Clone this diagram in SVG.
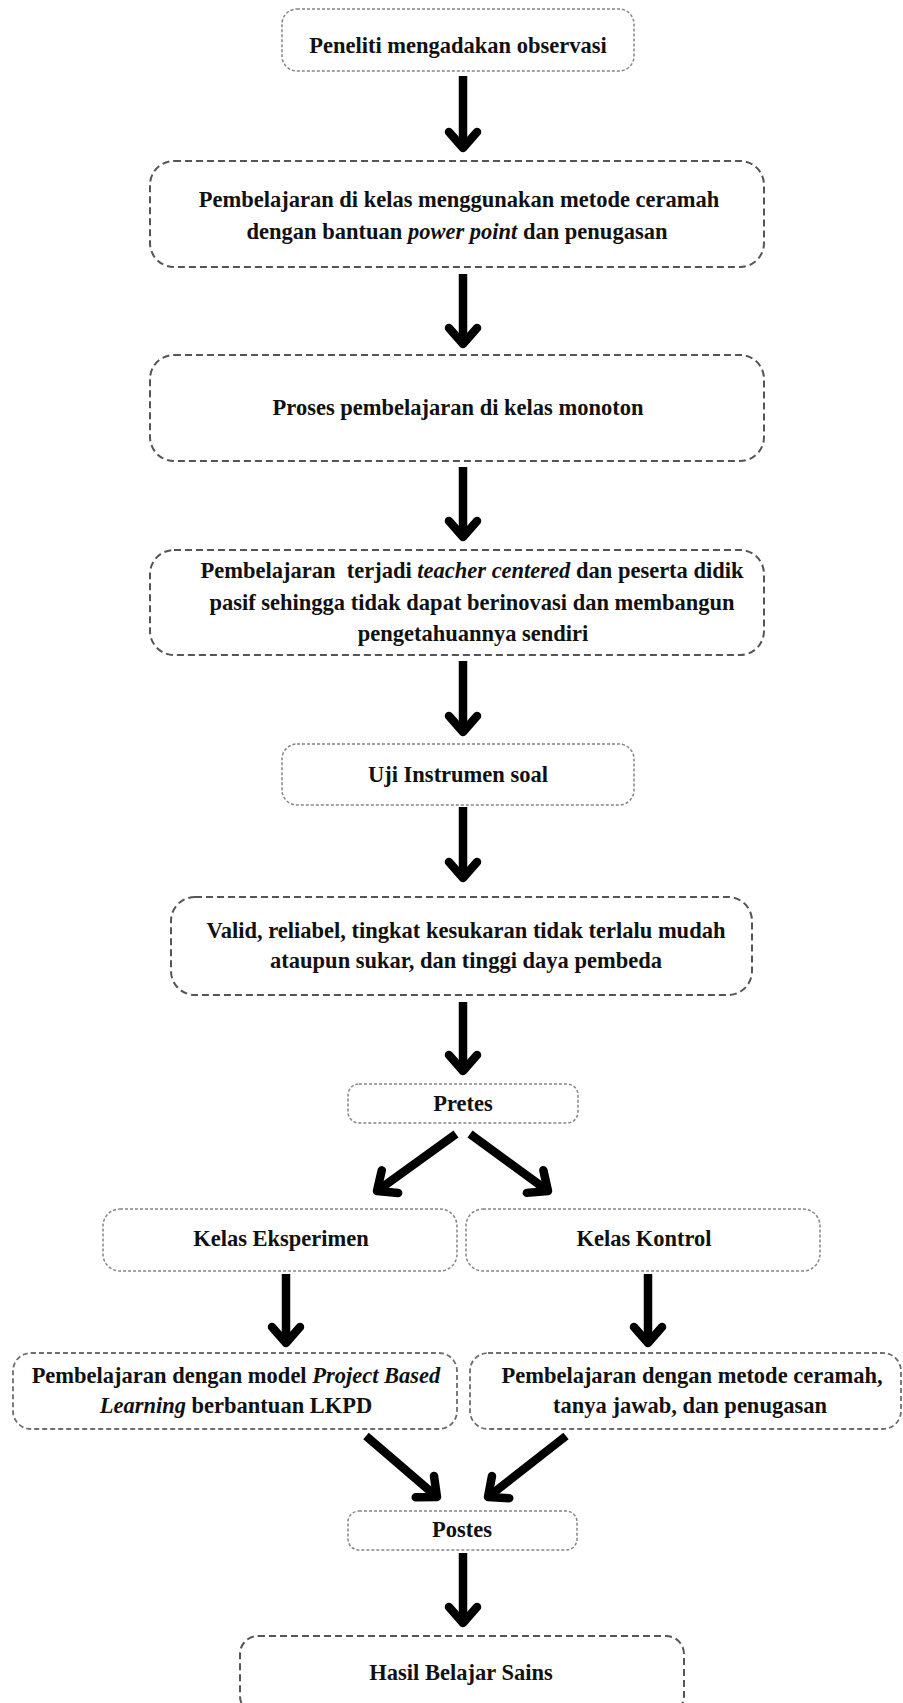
<svg xmlns="http://www.w3.org/2000/svg" width="903" height="1703" viewBox="0 0 903 1703">
<defs>
<style>
.t{font-family:"Liberation Serif","Times New Roman",serif;font-weight:bold;font-size:22.5px;fill:#111;text-anchor:middle}
.i{font-style:italic}
.fine{fill:#fff;stroke:#858585;stroke-width:1.5;stroke-dasharray:3 2}
.med{fill:#fff;stroke:#6e6e6e;stroke-width:1.8;stroke-dasharray:5 3}
.long{fill:#fff;stroke:#555;stroke-width:2;stroke-dasharray:7 4}
.arr{stroke:#000;stroke-width:8.5;fill:none;marker-end:url(#head)}
</style>
<marker id="head" markerUnits="userSpaceOnUse" orient="auto" refX="0" refY="0" markerWidth="40" markerHeight="40" overflow="visible">
<path d="M-16,-14 L0,0 L-16,14" fill="none" stroke="#000" stroke-width="8.5" stroke-linecap="round" stroke-linejoin="round"/>
</marker>
</defs>
<rect width="903" height="1703" fill="#fff"/>
<g id="connectors">
<line class="arr" x1="463" y1="76" x2="463" y2="148"/>
<line class="arr" x1="463" y1="274" x2="463" y2="344"/>
<line class="arr" x1="463" y1="467" x2="463" y2="537"/>
<line class="arr" x1="463" y1="661" x2="463" y2="732"/>
<line class="arr" x1="463" y1="807" x2="463" y2="878"/>
<line class="arr" x1="463" y1="1002" x2="463" y2="1071"/>
<line class="arr" x1="456" y1="1134" x2="377" y2="1191"/>
<line class="arr" x1="470" y1="1134" x2="548" y2="1191"/>
<line class="arr" x1="286" y1="1274" x2="286" y2="1343"/>
<line class="arr" x1="648" y1="1274" x2="648" y2="1343"/>
<line class="arr" x1="366" y1="1436" x2="437" y2="1497"/>
<line class="arr" x1="566" y1="1436" x2="488" y2="1497"/>
<line class="arr" x1="463" y1="1553" x2="463" y2="1623"/>
</g>
<g id="n1">
<rect class="fine" x="282" y="9" width="352" height="62" rx="15"/>
<text class="t" x="458" y="53">Peneliti mengadakan observasi</text>
</g>
<g id="n2">
<rect class="long" x="150" y="161" width="614" height="106" rx="24"/>
<text class="t" x="459" y="207">Pembelajaran di kelas menggunakan metode ceramah</text>
<text class="t" x="457" y="239">dengan bantuan <tspan class="i">power point</tspan> dan penugasan</text>
</g>
<g id="n3">
<rect class="long" x="150" y="355" width="614" height="106" rx="24"/>
<text class="t" x="458" y="415">Proses pembelajaran di kelas monoton</text>
</g>
<g id="n4">
<rect class="long" x="150" y="550" width="614" height="105" rx="24"/>
<text class="t" x="472" y="578" xml:space="preserve">Pembelajaran  terjadi <tspan class="i">teacher centered</tspan> dan peserta didik</text>
<text class="t" x="472" y="610">pasif sehingga tidak dapat berinovasi dan membangun</text>
<text class="t" x="473" y="641">pengetahuannya sendiri</text>
</g>
<g id="n5">
<rect class="fine" x="282" y="744" width="352" height="61" rx="15"/>
<text class="t" x="458" y="782">Uji Instrumen soal</text>
</g>
<g id="n6">
<rect class="long" x="171" y="897" width="581" height="98" rx="24"/>
<text class="t" x="466" y="938">Valid, reliabel, tingkat kesukaran tidak terlalu mudah</text>
<text class="t" x="466" y="968">ataupun sukar, dan tinggi daya pembeda</text>
</g>
<g id="n7">
<rect class="fine" x="348" y="1084" width="230" height="39" rx="11"/>
<text class="t" x="463" y="1111">Pretes</text>
</g>
<g id="n8">
<rect class="fine" x="103" y="1209" width="354" height="62" rx="17"/>
<text class="t" x="281" y="1246">Kelas Eksperimen</text>
</g>
<g id="n9">
<rect class="fine" x="466" y="1209" width="354" height="62" rx="17"/>
<text class="t" x="644" y="1246">Kelas Kontrol</text>
</g>
<g id="n10">
<rect class="med" x="13" y="1353" width="444" height="76" rx="18"/>
<text class="t" x="236" y="1383">Pembelajaran dengan model <tspan class="i">Project Based</tspan></text>
<text class="t" x="236" y="1413"><tspan class="i">Learning</tspan> berbantuan LKPD</text>
</g>
<g id="n11">
<rect class="med" x="470" y="1353" width="431" height="76" rx="18"/>
<text class="t" x="692" y="1383">Pembelajaran dengan metode ceramah,</text>
<text class="t" x="690" y="1413">tanya jawab, dan penugasan</text>
</g>
<g id="n12">
<rect class="fine" x="348" y="1511" width="229" height="39" rx="11"/>
<text class="t" x="462" y="1537">Postes</text>
</g>
<g id="n13">
<rect class="long" x="240" y="1636" width="444" height="78" rx="18"/>
<text class="t" x="461" y="1680">Hasil Belajar Sains</text>
</g>
</svg>
